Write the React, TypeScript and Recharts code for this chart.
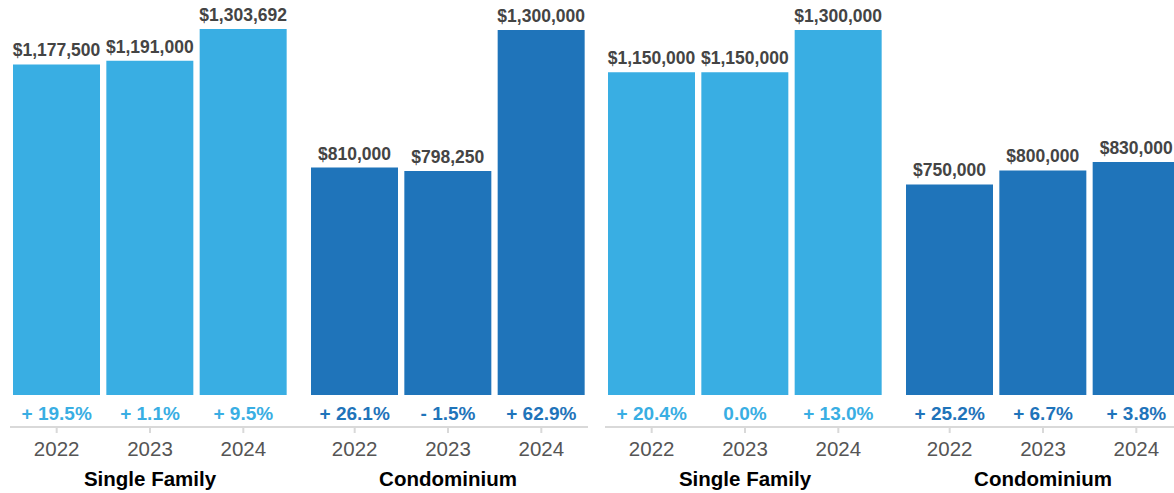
import { BarChart, Bar, XAxis, YAxis, LabelList, Label } from "recharts";

const years = ["2022", "2023", "2024"];
const groupNames = ["Single Family", "Condominium"];

const sfLeftValues = [1177500, 1191000, 1303692];
const sfLeftChange = ["+ 19.5%", "+ 1.1%", "+ 9.5%"];
const condoLeftValues = [810000, 798250, 1300000];
const condoLeftChange = ["+ 26.1%", "- 1.5%", "+ 62.9%"];

const sfRightValues = [1150000, 1150000, 1300000];
const sfRightChange = ["+ 20.4%", "0.0%", "+ 13.0%"];
const condoRightValues = [750000, 800000, 830000];
const condoRightChange = ["+ 25.2%", "+ 6.7%", "+ 3.8%"];

const LIGHT = "#39aee3";
const DARK = "#1f74ba";
const AXIS = "#d9d9d9";
const H = 493;
const PAD = 9;
const PANEL_W = 595;

type Row = { year: string; value: number; pct: string };

const makeRows = (values: number[], changes: string[]): Row[] =>
  years.map((year, i) => ({ year, value: values[i], pct: changes[i] }));

const money = (v: any) => "$" + Number(v).toLocaleString("en-US");

type GroupProps = {
  rows: Row[];
  name: string;
  color: string;
  left: number;
  padLeft: number;
  padRight: number;
};

function Group({ rows, name, color, left, padLeft, padRight }: GroupProps) {
  const renderName = (p: any) => {
    const vb = p.viewBox;
    const cx = vb.x + padLeft + (vb.width - padLeft - padRight) / 2;
    return (
      <text x={cx} y={vb.y + vb.height - 7} textAnchor="middle" fontSize={20.5} fontWeight="bold" fill="#000">
        {name}
      </text>
    );
  };

  return (
    <div style={{ position: "absolute", left, top: 0 }}>
      <BarChart
        width={289}
        height={H}
        data={rows}
        margin={{ top: 2, right: 0, bottom: 0, left: 0 }}
        barCategoryGap={3}
      >
        <XAxis
          xAxisId="a"
          dataKey="pct"
          height={32}
          interval={0}
          axisLine={false}
          tickLine={false}
          tickSize={0}
          tickMargin={11.5}
          padding={{ left: padLeft, right: padRight }}
          tick={{ fill: color, fontSize: 19, fontWeight: "bold" }}
        />
        <XAxis
          xAxisId="b"
          dataKey="year"
          height={66}
          interval={0}
          axisLine={{ stroke: AXIS, strokeWidth: 2 }}
          tickLine={{ stroke: AXIS, strokeWidth: 2 }}
          tickSize={6}
          tickMargin={8}
          padding={{ left: padLeft, right: padRight }}
          tick={{ fill: "#555", fontSize: 20.5 }}
          label={<Label content={renderName} />}
        />
        <YAxis hide domain={[0, 1400000]} />
        <Bar xAxisId="a" dataKey="value" fill={color} isAnimationActive={false}>
          <LabelList
            dataKey="value"
            position="top"
            offset={8}
            formatter={money}
            fill="#444"
            fontSize={17.5}
            fontWeight="bold"
          />
        </Bar>
      </BarChart>
    </div>
  );
}

function Panel({ left, sf, sfChange, condo, condoChange }: any) {
  return (
    <>
      <Group rows={makeRows(sf, sfChange)} name={groupNames[0]} color={LIGHT} left={left + 10} padLeft={0} padRight={PAD} />
      <Group rows={makeRows(condo, condoChange)} name={groupNames[1]} color={DARK} left={left + 299} padLeft={PAD} padRight={0} />
    </>
  );
}

export default function App() {
  return (
    <div
      style={{
        position: "absolute",
        left: 0,
        top: 0,
        width: 1174,
        height: H,
        overflow: "hidden",
        background: "#fff",
        fontFamily: "'Liberation Sans', Arial, Helvetica, sans-serif",
      }}
    >
      <Panel left={0} sf={sfLeftValues} sfChange={sfLeftChange} condo={condoLeftValues} condoChange={condoLeftChange} />
      <Panel left={PANEL_W} sf={sfRightValues} sfChange={sfRightChange} condo={condoRightValues} condoChange={condoRightChange} />
    </div>
  );
}
